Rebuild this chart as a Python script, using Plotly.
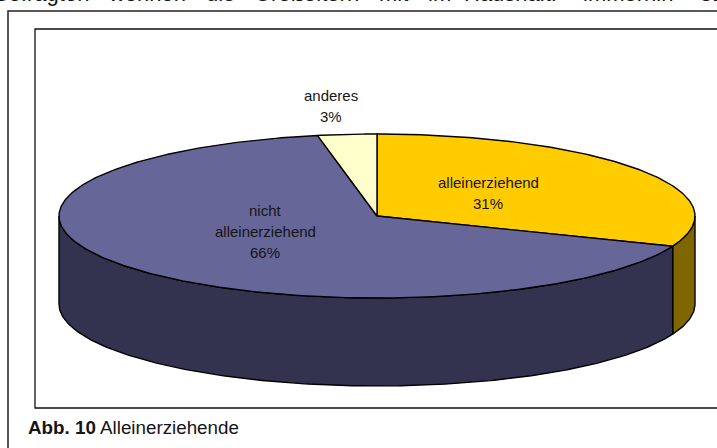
import math
import plotly.graph_objects as go

# Data
categories = ["alleinerziehend", "nicht alleinerziehend", "anderes"]
shares = [31, 66, 3]
label_lines = [["alleinerziehend", "31%"], ["nicht", "alleinerziehend", "66%"], ["anderes", "3%"]]
top_colors = ["#FFCC00", "#666699", "#FFFFCC"]
side_colors = ["#806600", "#333350", "#808066"]
header_words = ["Befragten", "wohnen", "die", "Großeltern", "mit", "im", "Haushalt.", "immerhin", "31"]
caption_bold = "Abb. 10"
caption_text = "Alleinerziehende"

# Layout constants (page pixels)
CX, CY, RX, RY, DEPTH = 377, 216, 318, 82, 88
LABEL_POS = [(488, 182), (265, 210), (331, 95)]
HEADER_X = [0, 107, 205, 253, 378, 427, 463, 582, 699]
HEADER_SHIFT = [-7, 0, 0, 0, 0, 0, 0, 0, 0]
LINE_H = 21
TEXT = "#151515"
FONT = "Liberation Sans, Arial, sans-serif"

def rim(a0, a1, dy=0):
    n = max(2, int(abs(a1 - a0) * 1.5))
    pts = [a0 + (a1 - a0) * i / n for i in range(n + 1)]
    return ([CX + RX * math.sin(math.radians(a)) for a in pts],
            [CY + dy - RY * math.cos(math.radians(a)) for a in pts])

fig = go.Figure()

# slice angle ranges, clockwise from 12 o'clock
total = sum(shares)
ranges, start = [], 0.0
for v in shares:
    end = start + 360.0 * v / total
    ranges.append((start, end))
    start = end

# side walls (visible part of the rim: 90..270 degrees)
for (a0, a1), col in zip(ranges, side_colors):
    lo, hi = max(a0, 90), min(a1, 270)
    if lo >= hi:
        continue
    xt, yt = rim(lo, hi)
    xb, yb = rim(hi, lo, DEPTH)
    fig.add_trace(go.Scatter(x=xt + xb + xt[:1], y=yt + yb + yt[:1], mode="lines",
                             fill="toself", fillcolor=col,
                             line=dict(color="#000000", width=1.4),
                             hoverinfo="skip", showlegend=False))

# top faces
for (a0, a1), col, name in zip(ranges, top_colors, categories):
    xs, ys = rim(a0, a1)
    fig.add_trace(go.Scatter(x=[CX] + xs + [CX], y=[CY] + ys + [CY], mode="lines",
                             fill="toself", fillcolor=col, name=name,
                             line=dict(color="#000000", width=1.4),
                             hoverinfo="skip", showlegend=False))

ann = []
for lines, (lx, ly) in zip(label_lines, LABEL_POS):
    for i, t in enumerate(lines):
        ann.append(dict(x=lx, y=ly + i * LINE_H, text=t, showarrow=False,
                        xanchor="center", yanchor="middle", borderpad=0,
                        font=dict(family=FONT, size=15, color=TEXT)))
for w, wx, sh in zip(header_words, HEADER_X, HEADER_SHIFT):
    ann.append(dict(x=wx, y=0, xshift=sh, yshift=7, text=w, showarrow=False, xanchor="left", yanchor="middle",
                    borderpad=0, font=dict(family=FONT, size=22, color=TEXT)))
ann.append(dict(x=27, y=427, text=f"<b>{caption_bold}</b> {caption_text}", showarrow=False,
                xanchor="left", yanchor="middle", borderpad=0,
                font=dict(family=FONT, size=18.8, color=TEXT)))

shapes = [
    dict(type="rect", x0=8, y0=11, x1=760, y1=480, line=dict(color="#222222", width=1.5), layer="below"),
    dict(type="rect", x0=35, y0=29, x1=740, y1=408, line=dict(color="#111111", width=1.3), layer="below"),
]

fig.update_layout(
    width=717, height=448, margin=dict(l=0, r=0, t=0, b=0),
    paper_bgcolor="white", plot_bgcolor="white", showlegend=False,
    annotations=ann, shapes=shapes,
    xaxis=dict(range=[0, 717], visible=False, fixedrange=True),
    yaxis=dict(range=[448, 0], visible=False, fixedrange=True),
)
fig.write_html("out.html", config=dict(displayModeBar=False),
               post_script="document.body.style.margin='0';document.body.style.overflow='hidden';")
